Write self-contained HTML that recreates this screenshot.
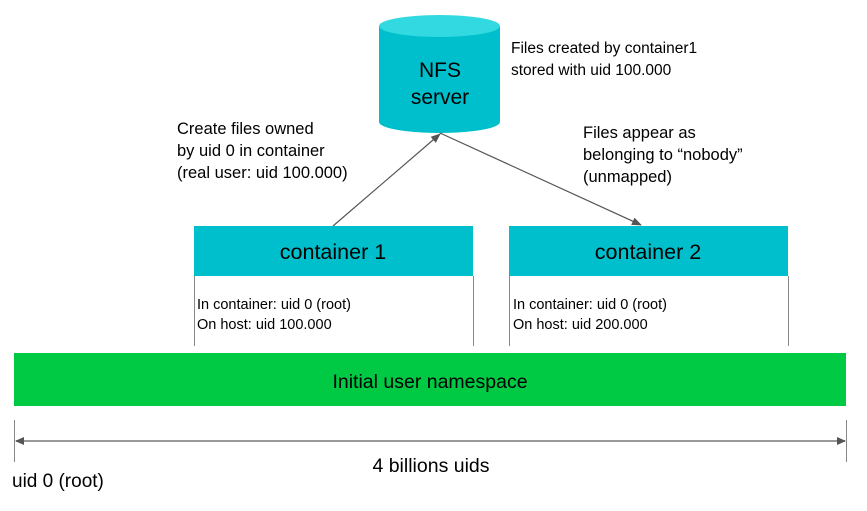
<!DOCTYPE html>
<html><head><style>body{margin:0;background:#fff}</style></head><body>
<svg width="867" height="506" xmlns="http://www.w3.org/2000/svg" font-family="Liberation Sans, sans-serif">
<defs><marker id="a" markerWidth="10" markerHeight="8" refX="9" refY="4" orient="auto" markerUnits="userSpaceOnUse"><path d="M0,0L10,4L0,8z" fill="#555"/></marker></defs>
<rect width="867" height="506" fill="#fff"/>
<path d="M379,26 V122 A60.5,11 0 0 0 500,122 V26" fill="#00bfcc"/>
<ellipse cx="439.5" cy="26" rx="60.5" ry="11" fill="#33d9e0"/>
<text x="440" y="77" font-size="21" text-anchor="middle">NFS</text>
<text x="440" y="104" font-size="21" text-anchor="middle">server</text>
<text x="511" y="53" font-size="15.5">Files created by container1</text>
<text x="511" y="75" font-size="15.5">stored with uid 100.000</text>
<text x="177" y="134" font-size="16.5">Create files owned</text>
<text x="177" y="156" font-size="16.5">by uid 0 in container</text>
<text x="177" y="178" font-size="16.5">(real user: uid 100.000)</text>
<text x="583" y="138" font-size="16.5">Files appear as</text>
<text x="583" y="160" font-size="16.5">belonging to “nobody”</text>
<text x="583" y="182" font-size="16.5">(unmapped)</text>
<line x1="333" y1="226" x2="440" y2="134" stroke="#555" stroke-width="1.2" marker-end="url(#a)"/>
<line x1="440" y1="133" x2="641" y2="225" stroke="#555" stroke-width="1.2" marker-end="url(#a)"/>
<rect x="194" y="226" width="279" height="50" fill="#00bfcc"/>
<rect x="509" y="226" width="279" height="50" fill="#00bfcc"/>
<text x="333" y="259" font-size="21.5" text-anchor="middle">container 1</text>
<text x="648" y="259" font-size="21.5" text-anchor="middle">container 2</text>
<g stroke="#888" stroke-width="1"><line x1="194.5" y1="276" x2="194.5" y2="346"/><line x1="473.5" y1="276" x2="473.5" y2="346"/><line x1="509.5" y1="276" x2="509.5" y2="346"/><line x1="788.5" y1="276" x2="788.5" y2="346"/>
<line x1="14.5" y1="420" x2="14.5" y2="462"/><line x1="846.5" y1="420" x2="846.5" y2="462"/></g>
<text x="197" y="309" font-size="14.5">In container: uid 0 (root)</text>
<text x="197" y="329" font-size="14.5">On host: uid 100.000</text>
<text x="513" y="309" font-size="14.5">In container: uid 0 (root)</text>
<text x="513" y="329" font-size="14.5">On host: uid 200.000</text>
<rect x="14" y="353" width="832" height="53" fill="#00c944"/>
<text x="430" y="388" font-size="19.5" text-anchor="middle">Initial user namespace</text>
<line x1="16" y1="441" x2="845" y2="441" stroke="#999" stroke-width="2"/>
<path d="M15,441 L24,437 L24,445z M846,441 L837,437 L837,445z" fill="#555"/>
<text x="431" y="472" font-size="19.5" text-anchor="middle">4 billions uids</text>
<text x="12" y="487" font-size="19">uid 0 (root)</text>
</svg>
</body></html>
